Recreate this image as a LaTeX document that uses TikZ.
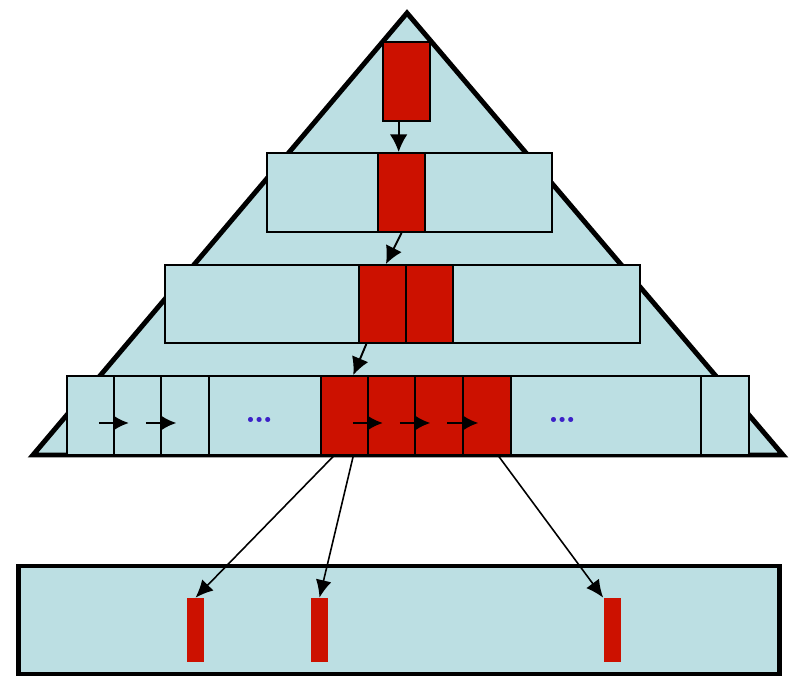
\documentclass[tikz,border=0pt]{standalone}
\usepackage{xcolor}
\usepackage{tikz}
\usetikzlibrary{arrows.meta,calc}
\definecolor{paleblue}{HTML}{BCDFE3}
\definecolor{keyred}{HTML}{CC1100}
\definecolor{dotblue}{HTML}{3C20C8}
\begin{document}
\begin{tikzpicture}[
  x=0.02cm, y=-0.02cm,
  cell/.style={draw, fill=paleblue, line width=1.1pt, inner sep=0pt, minimum height=1.58cm},
  hot/.style={cell, fill=keyred},
  bar/.style={fill=keyred, inner sep=0pt, minimum width=0.34cm, minimum height=1.28cm},
  link/.style={-{Latex[length=10pt,width=10pt]}, line width=1.1pt},
  down/.style={-{Latex[length=10pt,width=9pt]}, line width=0.9pt},
  hop/.style={-{Latex[length=9pt,width=9pt]}, line width=1.6pt},
  gap/.style={text=dotblue, font=\fontsize{20}{24}\selectfont\bfseries, inner sep=0pt}
]
\useasboundingbox (0,0) rectangle (792,678);
\draw[line width=2.8pt, fill=paleblue] (407,13) -- (33,455) -- (783,455) -- cycle;

\node[hot, minimum width=0.94cm] (root) at (406.5,81.5) {};

\node[cell, minimum width=5.70cm] (lvA) at (409.5,192.5) {};
\node[hot, minimum width=0.94cm] (rA) at (401.5,192.5) {};

\node[cell, minimum width=9.50cm, minimum height=1.56cm] (lvB) at (402.5,304) {};
\node[hot, minimum width=0.94cm, minimum height=1.56cm] (rB1) at (382.5,304) {};
\node[hot, minimum width=0.94cm, minimum height=1.56cm] (rB2) at (429.5,304) {};

\node[cell, minimum width=0.94cm, anchor=west] (cA) at (66,415.5) {};
\node[cell, minimum width=0.94cm, anchor=west] (cB) at (113,415.5) {};
\node[cell, minimum width=0.96cm, anchor=west] (cC) at (160,415.5) {};
\node[cell, minimum width=2.24cm, anchor=west] (cD) at (208,415.5) {};
\node[hot, minimum width=0.94cm, anchor=west] (rC1) at (320,415.5) {};
\node[hot, minimum width=0.94cm, anchor=west] (rC2) at (367,415.5) {};
\node[hot, minimum width=0.96cm, anchor=west] (rC3) at (414,415.5) {};
\node[hot, minimum width=0.96cm, anchor=west] (rC4) at (462,415.5) {};
\node[cell, minimum width=3.80cm, anchor=west] (cE) at (510,415.5) {};
\node[cell, minimum width=0.96cm, anchor=west] (cF) at (700,415.5) {};
\node[gap] (gapL) at (260,420) {\ldots};
\node[gap] (gapR) at (563,420) {\ldots};

\node[draw, fill=paleblue, line width=2.8pt, inner sep=0pt, minimum width=15.24cm, minimum height=2.16cm] (leaf) at (399,620) {};
\node[bar] (barA) at (195.5,630) {};
\node[bar] (barB) at (319.5,630) {};
\node[bar] (barC) at (612,630) {};

\draw[link] ($(root.south west)!0.34!(root.south east)$) coordinate (t) -- (t |- rA.north);
\draw[link] (rA.south) -- ($(rB1.north west)!0.57!(rB1.north east)$);
\draw[link] ($(rB1.south west)!0.17!(rB1.south east)$) -- ($(rC1.north west)!0.68!(rC1.north east)$);

\draw[hop] ($(cA)+(8.5,7.5)$) -- ($(cB)+(-8.5,7.5)$);
\draw[hop] ($(cB)+(8.5,7.5)$) -- ($(cC)+(-8.5,7.5)$);
\draw[hop] ($(rC1)+(8.5,7.5)$) -- ($(rC2)+(-8.5,7.5)$);
\draw[hop] ($(rC2)+(8.5,7.5)$) -- ($(rC3)+(-8.5,7.5)$);
\draw[hop] ($(rC3)+(8.5,7.5)$) -- ($(rC4)+(-8.5,7.5)$);

\draw[down] ($(rC1.south west)!0.28!(rC1.south east)$) -- (barA.north);
\draw[down] ($(rC1.south west)!0.68!(rC1.south east)$) -- (barB.north);
\draw[down] ($(rC4.south west)!0.73!(rC4.south east)$) -- (barC.north west);
\end{tikzpicture}
\end{document}
